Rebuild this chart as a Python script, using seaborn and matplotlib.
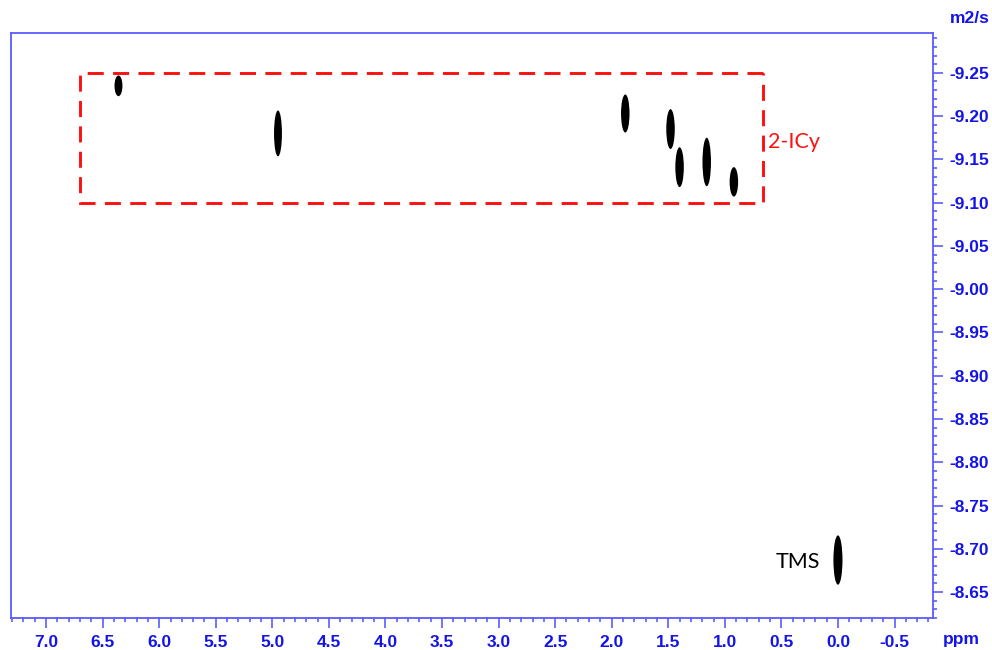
import matplotlib
matplotlib.use("Agg")
import matplotlib.pyplot as plt
from matplotlib.patches import Ellipse, Rectangle
from matplotlib.ticker import MultipleLocator, FormatStrFormatter
import seaborn as sns

# peak data (chemical shift ppm, log D, vertical extent)
peak_ppm = [6.36, 4.95, 1.88, 1.48, 1.40, 1.16, 0.92, 0.00]
peak_logd = [-9.235, -9.180, -9.203, -9.185, -9.141, -9.147, -9.124, -8.687]
peak_height = [0.024, 0.053, 0.044, 0.046, 0.046, 0.056, 0.034, 0.057]
peak_width = [0.07, 0.07, 0.075, 0.075, 0.075, 0.075, 0.075, 0.08]

box_ppm = [6.70, 0.66]
box_logd = [-9.25, -9.10]
box_label = "2-ICy"
ref_label = "TMS"

sns.set_theme(style="white")
plt.rcParams["font.family"] = ["Liberation Sans", "DejaVu Sans"]

axis_col = "#5b5bff"
text_col = "#1414e8"

fig = plt.figure(figsize=(9.92, 6.5), dpi=100)
ax = fig.add_axes([0.0111, 0.0492, 0.9294, 0.9000])

for x, y, h, w in zip(peak_ppm, peak_logd, peak_height, peak_width):
    ax.add_patch(Ellipse((x, y), w, h, facecolor="black", edgecolor="none"))

# dashed region box + labels
ax.add_patch(Rectangle((box_ppm[1], box_logd[0]), box_ppm[0] - box_ppm[1],
                       box_logd[1] - box_logd[0], fill=False, edgecolor="#ff1010",
                       linestyle=(0, (5.5, 3.2)), linewidth=2.1))
ax.text(box_ppm[1] - 0.04, -9.17, box_label, color="#ff1010", fontsize=15.5,
        family=["Lato", "DejaVu Sans"], va="center", ha="left")
ax.text(0.16, -8.685, ref_label, color="black", fontsize=15.5,
        family=["Lato", "DejaVu Sans"], va="center", ha="right")

ax.set_xlim(7.31, -0.84)
ax.set_ylim(-8.62, -9.296)

ax.xaxis.set_major_locator(MultipleLocator(0.5))
ax.xaxis.set_minor_locator(MultipleLocator(0.1))
ax.yaxis.set_major_locator(MultipleLocator(0.05))
ax.yaxis.set_minor_locator(MultipleLocator(0.01))
ax.xaxis.set_major_formatter(FormatStrFormatter("%.1f"))
ax.yaxis.set_major_formatter(FormatStrFormatter("%.2f"))

ax.yaxis.tick_right()
for s in ax.spines.values():
    s.set_color(axis_col)
    s.set_linewidth(1.3)

ax.tick_params(axis="both", which="both", direction="out", colors=axis_col,
               labelcolor=text_col, labelsize=12.5, width=1.2)
ax.tick_params(axis="both", which="major", length=7, pad=5)
ax.tick_params(axis="both", which="minor", length=3)
ax.tick_params(axis="x", which="both", bottom=True, top=False)
ax.tick_params(axis="y", which="both", right=True, left=False)
for lab in ax.get_xticklabels() + ax.get_yticklabels():
    lab.set_fontweight("bold")

fig.text(0.950, 0.016, "ppm", color=text_col, fontsize=12.5, fontweight="bold",
         ha="left", va="center")
fig.text(0.958, 0.972, "m2/s", color=text_col, fontsize=12.5, fontweight="bold",
         ha="left", va="center")

fig.savefig("out.png", dpi=100)
